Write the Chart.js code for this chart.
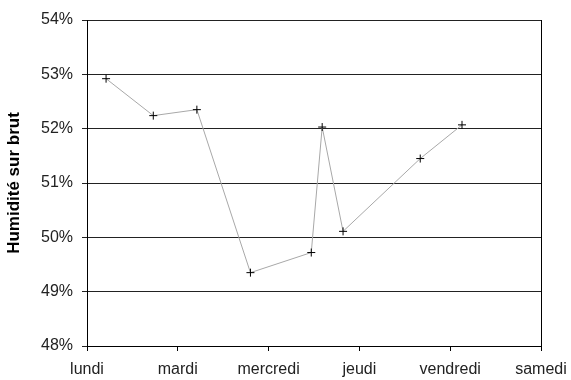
<!DOCTYPE html>
<html>
<head>
<meta charset="utf-8">
<script src="https://cdn.jsdelivr.net/npm/chart.js@4/dist/chart.umd.min.js"></script>
<style>
  html, body { margin: 0; padding: 0; background: #fff; }
  #wrap { width: 571px; height: 380px; }
</style>
</head>
<body>
<div id="wrap"><canvas id="chart"></canvas></div>
<script>
const dayLabels = ["lundi", "mardi", "mercredi", "jeudi", "vendredi", "samedi"]
// position along the week (0 = lundi) and measured humidity in %
const dayPos = [0.21, 0.73, 1.21, 1.80, 2.47, 2.59, 2.82, 3.67, 4.13]
const humidity = [52.92, 52.24, 52.35, 49.35, 49.72, 52.03, 50.11, 51.45, 52.07]

Chart.defaults.font.family = "'Liberation Sans', Arial, sans-serif"
Chart.defaults.color = "#222"

const points = dayPos.map((x, i) => ({ x: x, y: humidity[i] }))

new Chart(document.getElementById("chart"), {
  type: "line",
  data: {
    datasets: [{
      data: points,
      borderColor: "#a8a8a8",
      borderWidth: 1,
      tension: 0,
      pointStyle: "cross",
      pointRadius: 4,
      pointBorderColor: "#000",
      pointBorderWidth: 1,
      pointBackgroundColor: "#000",
    }],
  },
  options: {
    responsive: true,
    maintainAspectRatio: false,
    animation: false,
    layout: { padding: { top: 20, right: 30, left: 0, bottom: 0 } },
    plugins: {
      legend: { display: false },
      tooltip: { enabled: false },
    },
    scales: {
      x: {
        type: "linear",
        min: 0,
        max: 5,
        afterFit: (scale) => {
          scale.height = 34
          scale.paddingLeft = 0
          scale.paddingRight = 0
        },
        ticks: {
          stepSize: 1,
          padding: 9,
          font: { size: 16 },
          maxRotation: 0,
          callback: (v) => dayLabels[v],
        },
        grid: {
          drawOnChartArea: true,
          color: (ctx) => (ctx.index === 5 ? "#000" : "rgba(0,0,0,0)"),
          tickColor: "#000",
          tickLength: 5,
        },
        border: { display: true, color: "#000", width: 1 },
      },
      y: {
        min: 48,
        max: 54,
        afterFit: (scale) => { scale.width = 87 },
        ticks: {
          stepSize: 1,
          padding: 9,
          font: { size: 16 },
          callback: (v) => v + "%",
        },
        grid: {
          color: "#222",
          tickColor: "#222",
          tickLength: 5,
        },
        border: { display: true, color: "#000", width: 1 },
        title: {
          display: true,
          text: "Humidité sur brut",
          font: { size: 17, weight: "bold" },
          color: "#000",
          padding: { top: 4, bottom: 0 },
        },
      },
    },
  },
})
</script>
</body>
</html>
